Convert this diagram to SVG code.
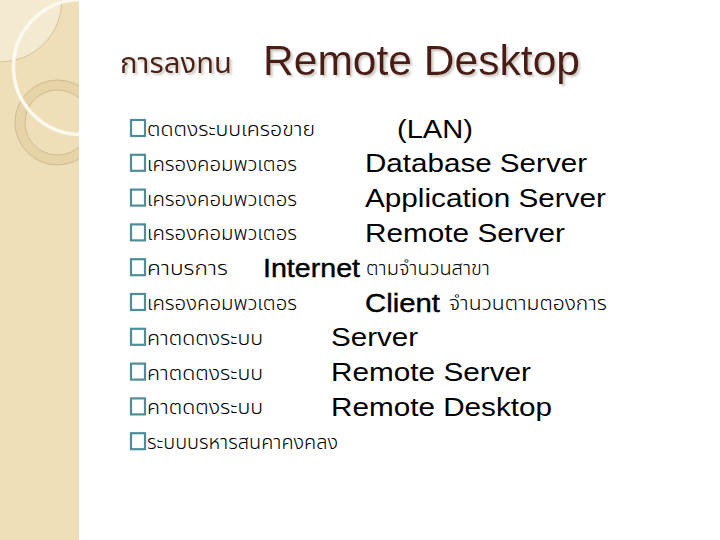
<svg xmlns="http://www.w3.org/2000/svg" width="720" height="540" viewBox="0 0 720 540">
<defs>
<clipPath id="panel"><rect x="0" y="0" width="79" height="540"/></clipPath>
<filter id="sh" x="-5%" y="-20%" width="115%" height="150%">
<feGaussianBlur in="SourceAlpha" stdDeviation="0.8"/>
<feOffset dx="2" dy="2" result="o"/>
<feFlood flood-color="#c8bfb8" flood-opacity="0.9"/>
<feComposite in2="o" operator="in"/>
<feMerge><feMergeNode/><feMergeNode in="SourceGraphic"/></feMerge>
</filter>
</defs>
<style>
.th{font-family:"Noto Sans Thai","Liberation Sans","DejaVu Sans",sans-serif;font-size:19px;font-weight:300;fill:#000}
.en{font-family:"Liberation Sans",Arial,sans-serif;font-size:25px;fill:#000}
.hv{stroke:#000;stroke-width:0.4}
.bx{fill:none;stroke:#4f8e99;stroke-width:2.2}
</style>
<rect x="0" y="0" width="720" height="540" fill="#ffffff"/>
<g id="panel-bg" clip-path="url(#panel)">
<rect x="0" y="0" width="79" height="540" fill="#efdfb9"/>
<circle cx="0" cy="0" r="62" fill="#f4ead2" stroke="#d6c196" stroke-width="1"/>
<circle cx="57.5" cy="122.5" r="37.5" fill="none" stroke="#e6d3a8" stroke-width="10"/>
<circle cx="57.5" cy="122.5" r="42.5" fill="none" stroke="#cdb68c" stroke-width="0.9"/>
<circle cx="57.5" cy="122.5" r="32.5" fill="none" stroke="#cdb68c" stroke-width="0.9"/>
<circle cx="81" cy="67" r="67.5" fill="none" stroke="#fdf9ef" stroke-width="3.5"/>
</g>
<g id="title">
<text x="120" y="73" filter="url(#sh)" style="font-family:'Noto Sans Thai','Liberation Sans',sans-serif;font-size:28px;fill:#4e2418" textLength="112" lengthAdjust="spacingAndGlyphs">การลงทน</text>
<text x="263" y="75" filter="url(#sh)" style="font-family:'Liberation Sans',Arial,sans-serif;font-size:42px;fill:#4a1e14" textLength="317" lengthAdjust="spacingAndGlyphs">Remote Desktop</text>
</g>
<g id="row1">
<rect class="bx" x="131" y="120" width="14" height="16"/>
<text class="th" x="147" y="136" textLength="168" lengthAdjust="spacingAndGlyphs">ตดตงระบบเครอขาย</text>
<text class="en" x="397" y="137.5" textLength="76" lengthAdjust="spacingAndGlyphs">(LAN)</text>
</g>
<g id="row2">
<rect class="bx" x="131" y="154.8" width="14" height="16"/>
<text class="th" x="147" y="170.8" textLength="150" lengthAdjust="spacingAndGlyphs">เครองคอมพวเตอร</text>
<text class="en" x="365" y="172.3" textLength="222" lengthAdjust="spacingAndGlyphs">Database Server</text>
</g>
<g id="row3">
<rect class="bx" x="131" y="189.6" width="14" height="16"/>
<text class="th" x="147" y="205.6" textLength="150" lengthAdjust="spacingAndGlyphs">เครองคอมพวเตอร</text>
<text class="en" x="365" y="207.1" textLength="241" lengthAdjust="spacingAndGlyphs">Application Server</text>
</g>
<g id="row4">
<rect class="bx" x="131" y="224.4" width="14" height="16"/>
<text class="th" x="147" y="240.4" textLength="150" lengthAdjust="spacingAndGlyphs">เครองคอมพวเตอร</text>
<text class="en" x="365" y="241.9" textLength="200" lengthAdjust="spacingAndGlyphs">Remote Server</text>
</g>
<g id="row5">
<rect class="bx" x="131" y="259.2" width="14" height="16"/>
<text class="th" x="147" y="275.2" textLength="81" lengthAdjust="spacingAndGlyphs">คาบรการ</text>
<text class="en hv" x="263" y="276.7" textLength="97" lengthAdjust="spacingAndGlyphs">Internet</text>
<text class="th" x="366" y="275.2" textLength="124" lengthAdjust="spacingAndGlyphs">ตามจำนวนสาขา</text>
</g>
<g id="row6">
<rect class="bx" x="131" y="294" width="14" height="16"/>
<text class="th" x="147" y="310" textLength="150" lengthAdjust="spacingAndGlyphs">เครองคอมพวเตอร</text>
<text class="en hv" x="365" y="311.5" textLength="75" lengthAdjust="spacingAndGlyphs">Client</text>
<text class="th" x="449" y="310" textLength="158" lengthAdjust="spacingAndGlyphs">จำนวนตามตองการ</text>
</g>
<g id="row7">
<rect class="bx" x="131" y="328.8" width="14" height="16"/>
<text class="th" x="147" y="344.8" textLength="116" lengthAdjust="spacingAndGlyphs">คาตดตงระบบ</text>
<text class="en" x="331" y="346.3" textLength="87" lengthAdjust="spacingAndGlyphs">Server</text>
</g>
<g id="row8">
<rect class="bx" x="131" y="363.6" width="14" height="16"/>
<text class="th" x="147" y="379.6" textLength="116" lengthAdjust="spacingAndGlyphs">คาตดตงระบบ</text>
<text class="en" x="331" y="381.1" textLength="200" lengthAdjust="spacingAndGlyphs">Remote Server</text>
</g>
<g id="row9">
<rect class="bx" x="131" y="398.4" width="14" height="16"/>
<text class="th" x="147" y="414.4" textLength="116" lengthAdjust="spacingAndGlyphs">คาตดตงระบบ</text>
<text class="en" x="331" y="415.9" textLength="221" lengthAdjust="spacingAndGlyphs">Remote Desktop</text>
</g>
<g id="row10">
<rect class="bx" x="131" y="433.2" width="14" height="16"/>
<text class="th" x="147" y="449.2" textLength="191" lengthAdjust="spacingAndGlyphs">ระบบบรหารสนคาคงคลง</text>
</g>
</svg>
